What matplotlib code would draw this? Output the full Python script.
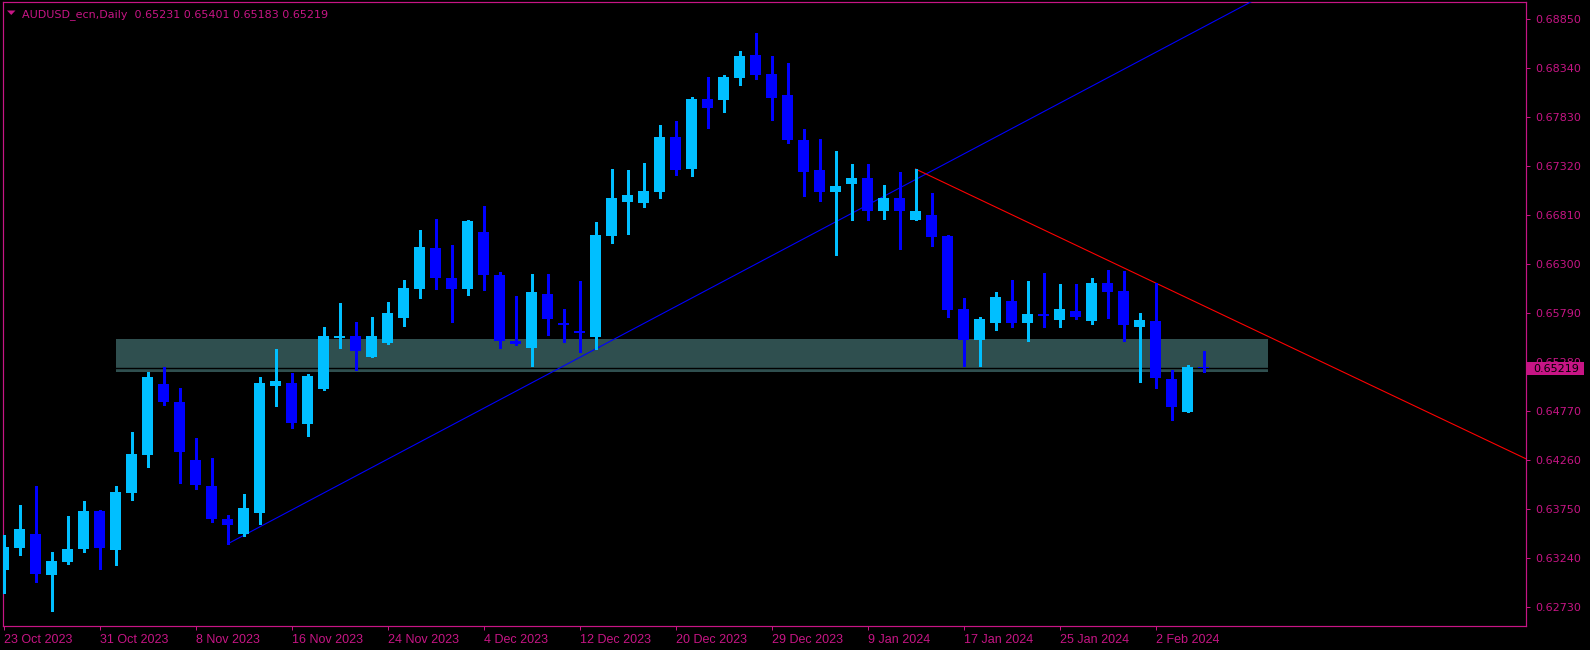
import matplotlib
matplotlib.use("Agg")
import matplotlib.pyplot as plt
from matplotlib.patches import Rectangle, Polygon
import numpy as np
import pandas as pd

# ---------------- data ----------------
title_text = "AUDUSD_ecn,Daily  0.65231 0.65401 0.65183 0.65219"

opens = [0.63118, 0.63350, 0.63493, 0.63066, 0.63202, 0.63337, 0.63732, 0.63327, 0.63920, 0.64315,
         0.65054, 0.64867, 0.64263, 0.63993, 0.63649, 0.63493, 0.63712, 0.65034, 0.65065, 0.64638,
         0.65002, 0.65533, 0.65554, 0.65335, 0.65481, 0.65741, 0.66043, 0.66470, 0.66158, 0.66043,
         0.66636, 0.66189, 0.65502, 0.65429, 0.65991, 0.65689, 0.65606, 0.65543, 0.66595, 0.66948,
         0.66938, 0.67053, 0.67625, 0.67292, 0.68021, 0.68010, 0.68239, 0.68479, 0.68281, 0.68062,
         0.67594, 0.67282, 0.67053, 0.67136, 0.67198, 0.66855, 0.66990, 0.66761, 0.66813, 0.66595,
         0.65835, 0.65512, 0.65689, 0.65918, 0.65689, 0.65783, 0.65720, 0.65814, 0.65710, 0.66106,
         0.66022, 0.65648, 0.65710, 0.65106, 0.64763, 0.65231]
highs = [0.63483, 0.63795, 0.63993, 0.63306, 0.63680, 0.63836, 0.63743, 0.63993, 0.64555, 0.65179,
         0.65231, 0.65012, 0.64492, 0.64284, 0.63691, 0.63909, 0.65127, 0.65419, 0.65169, 0.65158,
         0.65648, 0.65897, 0.65700, 0.65752, 0.65908, 0.66137, 0.66657, 0.66771, 0.66501, 0.66761,
         0.66907, 0.66220, 0.65970, 0.66199, 0.66199, 0.65835, 0.66126, 0.66740, 0.67292, 0.67282,
         0.67355, 0.67750, 0.67792, 0.68041, 0.68249, 0.68270, 0.68523, 0.68708, 0.68468, 0.68395,
         0.67708, 0.67604, 0.67479, 0.67344, 0.67344, 0.67125, 0.67261, 0.67292, 0.67042, 0.66605,
         0.65949, 0.65752, 0.66012, 0.66137, 0.66126, 0.66210, 0.66095, 0.66095, 0.66158, 0.66241,
         0.66231, 0.65793, 0.66106, 0.65200, 0.65252, 0.65401]
lows = [0.62882, 0.63278, 0.62995, 0.62695, 0.63181, 0.63306, 0.63129, 0.63170, 0.63847, 0.64190,
        0.64836, 0.64024, 0.63961, 0.63618, 0.63389, 0.63472, 0.63597, 0.64825, 0.64596, 0.64513,
        0.64992, 0.65429, 0.65200, 0.65330, 0.65475, 0.65658, 0.65949, 0.66043, 0.65700, 0.65980,
        0.66033, 0.65429, 0.65460, 0.65241, 0.65564, 0.65491, 0.65387, 0.65419, 0.66522, 0.66615,
        0.66896, 0.66990, 0.67230, 0.67219, 0.67719, 0.67885, 0.68166, 0.68229, 0.67802, 0.67563,
        0.67011, 0.66959, 0.66397, 0.66761, 0.66761, 0.66772, 0.66459, 0.66761, 0.66490, 0.65752,
        0.65241, 0.65241, 0.65616, 0.65648, 0.65502, 0.65648, 0.65648, 0.65731, 0.65679, 0.65741,
        0.65502, 0.65075, 0.65013, 0.64680, 0.64763, 0.65183]
closes = [0.63358, 0.63545, 0.63080, 0.63212, 0.63337, 0.63732, 0.63347, 0.63930, 0.64326, 0.65127,
          0.64867, 0.64347, 0.64003, 0.63649, 0.63587, 0.63764, 0.65065, 0.65086, 0.64648, 0.65138,
          0.65554, 0.65554, 0.65398, 0.65554, 0.65793, 0.66053, 0.66480, 0.66158, 0.66043, 0.66751,
          0.66189, 0.65502, 0.65470, 0.66012, 0.65731, 0.65668, 0.65585, 0.66605, 0.66990, 0.67021,
          0.67063, 0.67625, 0.67282, 0.68021, 0.67927, 0.68249, 0.68468, 0.68270, 0.68031, 0.67594,
          0.67261, 0.67053, 0.67115, 0.67198, 0.66855, 0.66990, 0.66855, 0.66855, 0.66584, 0.65828,
          0.65512, 0.65731, 0.65960, 0.65689, 0.65783, 0.65762, 0.65835, 0.65752, 0.66106, 0.66012,
          0.65668, 0.65720, 0.65120, 0.64815, 0.65231, 0.65219]

first_day = "2023-10-23"
last_day = "2024-02-07"
holidays = ["2023-12-25", "2024-01-01"]
label_every = 6

price_ticks = [0.62730, 0.63240, 0.63750, 0.64260, 0.64770, 0.65280, 0.65790,
               0.66300, 0.66810, 0.67320, 0.67830, 0.68340, 0.68850]

zone_bars = [7, 79]
zone_prices = [0.65179, 0.65523]
up_trend_bars = [14, 57]
up_trend_prices = [0.63389, 0.67182]
down_trend_bars = [57, 72]
down_trend_prices = [0.67292, 0.66106]
bid_price = 0.65219

# ---------------- style ----------------
W, H = 1590, 650
BG = "black"
FG = "#C71585"
BULL = "#00BFFF"
BEAR = "#0000FF"
ZONE = "#2F4F4F"
PX = 0.72  # one pixel in points at dpi 100

left_px, right_px, top_px, bottom_px = 2.5, 1526.0, 2.3, 626.0
bar_px, first_center_px = 16.0, 3.5
y_hi, y_lo = 0.69027, 0.62535

fig = plt.figure(figsize=(W / 100, H / 100), dpi=100, facecolor=BG)
ax = fig.add_axes([left_px / W, 1 - bottom_px / H,
                   (right_px - left_px) / W, (bottom_px - top_px) / H])
ax.set_facecolor(BG)

trading = pd.bdate_range(first_day, last_day)
dates = [d for d in trading if d.strftime("%Y-%m-%d") not in holidays]
n = len(opens)
xs = np.arange(n)

ax.set_xlim((left_px - first_center_px) / bar_px, (right_px - first_center_px) / bar_px)
ax.set_ylim(y_lo, y_hi)

# zone
ax.add_patch(Rectangle((zone_bars[0], zone_prices[0]), zone_bars[1] - zone_bars[0],
                       zone_prices[1] - zone_prices[0], facecolor=ZONE, edgecolor="none",
                       zorder=1, antialiased=False))
# bid line
ax.axhline(bid_price, color="black", lw=1.4 * PX, zorder=2)

# trend rays
x_far = 300
s_up = (up_trend_prices[1] - up_trend_prices[0]) / (up_trend_bars[1] - up_trend_bars[0])
ax.plot([up_trend_bars[0], x_far],
        [up_trend_prices[0], up_trend_prices[0] + s_up * (x_far - up_trend_bars[0])],
        color=BEAR, lw=1.1 * PX, zorder=3)
s_dn = (down_trend_prices[1] - down_trend_prices[0]) / (down_trend_bars[1] - down_trend_bars[0])
ax.plot([down_trend_bars[0], x_far],
        [down_trend_prices[0], down_trend_prices[0] + s_dn * (x_far - down_trend_bars[0])],
        color="#FF0000", lw=1.1 * PX, zorder=3)

# candles
o = np.array(opens); h = np.array(highs); l = np.array(lows); c = np.array(closes)
cols = [BULL if cc >= oo else BEAR for oo, cc in zip(o, c)]
ax.vlines(xs, l, h, colors=cols, lw=1.2 * PX, zorder=4, antialiased=False)
min_h = 1.5 / 9607.8
ax.bar(xs, np.maximum(np.abs(c - o), min_h), bottom=np.minimum(o, c), width=11 / 16,
       color=cols, linewidth=0, zorder=5, antialiased=False)

# axes styling
for sp in ax.spines.values():
    sp.set_color(FG)
    sp.set_linewidth(1.2 * PX)
ax.yaxis.tick_right()
ax.set_yticks(price_ticks)
ax.set_yticklabels([f"{p:.5f}" for p in price_ticks])
ax.tick_params(axis="y", colors=FG, length=3 * PX * 1.3, width=PX, pad=4, labelsize=8,
               labelcolor=FG)
tick_idx = list(range(0, n, label_every))
ax.set_xticks(tick_idx)
ax.set_xticklabels([f"{dates[i].day} {dates[i].strftime('%b %Y')}" for i in tick_idx],
                   ha="left", fontfamily="Liberation Sans")
ax.tick_params(axis="x", colors=FG, length=4 * PX, width=PX, pad=3, labelsize=9,
               labelcolor=FG)
for lab in ax.get_yticklabels():
    lab.set_fontfamily("DejaVu Sans")

# title
fig.text(21.5 / W, 1 - 16.7 / H, title_text, color=FG, fontsize=8, va="baseline",
         ha="left", family="DejaVu Sans")
fig.patches.append(Polygon([[7 / W, 1 - 10.5 / H], [15.5 / W, 1 - 10.5 / H],
                            [11.25 / W, 1 - 15 / H]], closed=True, facecolor=FG,
                           edgecolor="none", transform=fig.transFigure, figure=fig))

# current price label (drawn over the 0.65280 tick label, as in the terminal)
bid_y = ax.transData.transform((0, bid_price))[1]
fig.patches.append(Rectangle((1527 / W, (bid_y - 6.8) / H), 57 / W, 13.4 / H,
                             facecolor=FG, edgecolor="none", transform=fig.transFigure,
                             figure=fig, zorder=5))
fig.text(1533.3 / W, bid_y / H, f"{bid_price:.5f}", color="black", fontsize=8,
         va="center_baseline", ha="left", family="DejaVu Sans", zorder=6)

fig.savefig("out.png", dpi=100, facecolor=BG)
